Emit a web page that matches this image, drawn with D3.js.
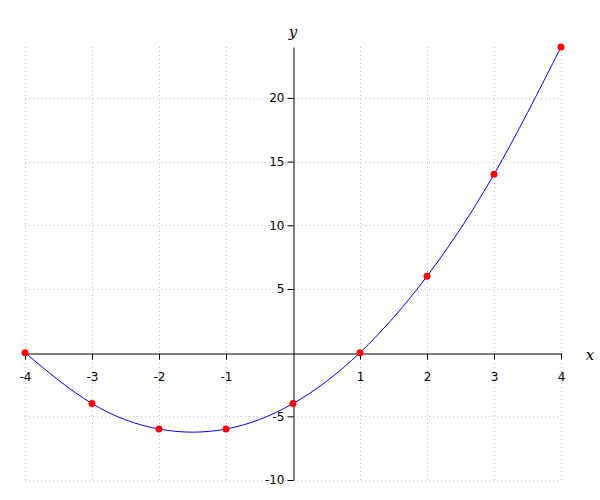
<!DOCTYPE html>
<html><head><meta charset="utf-8">
<script src="https://cdn.jsdelivr.net/npm/d3@7"></script>
<style>body{margin:0;background:#fff}</style>
</head><body>
<svg id="c" width="600" height="500"></svg>
<script>
const xs = [-4, -3, -2, -1, 0, 1, 2, 3, 4];
const ys = [0, -4, -6, -6, -4, 0, 6, 14, 24];
const xTicks = [-4, -3, -2, -1, 1, 2, 3, 4];
const yTicks = [-10, -5, 5, 10, 15, 20];

const svg = d3.select("#c");
const x = d3.scaleLinear().domain([-4, 4]).range([25, 561]);
const y = d3.scaleLinear().domain([-10, 24]).range([480, 47]);

const grid = svg.append("g").attr("stroke", "#bbb").attr("stroke-width", 1).attr("stroke-dasharray", "1,3");
xTicks.forEach(t => grid.append("line").attr("x1", Math.round(x(t))+0.5).attr("x2", Math.round(x(t))+0.5).attr("y1", y(24)).attr("y2", y(-10)));
yTicks.forEach(t => grid.append("line").attr("y1", Math.round(y(t))+0.5).attr("y2", Math.round(y(t))+0.5).attr("x1", x(-4)).attr("x2", x(4)));

const xAxis = svg.append("g").attr("transform", `translate(0,${Math.round(y(0))+0.5})`)
  .call(d3.axisBottom(x).tickValues(xTicks).tickSize(6).tickSizeOuter(0).tickFormat(d => String(d)));
const yAxis = svg.append("g").attr("transform", `translate(${Math.round(x(0))+0.5},0)`)
  .call(d3.axisLeft(y).tickValues(yTicks).tickSize(6).tickSizeOuter(0).tickFormat(d => String(d)));
[xAxis, yAxis].forEach(a => {
  a.select(".domain").attr("stroke", "#000").attr("stroke-width", 1);
  a.selectAll(".tick line").attr("stroke", "#000");
  a.selectAll("text").attr("font-family", "DejaVu Sans, sans-serif").attr("font-size", 12).attr("fill", "#000");
});
xAxis.selectAll(".tick text").attr("dy", "1.55em");
yAxis.selectAll(".tick text").attr("x", -9);

const line = d3.line().x((d, i) => x(xs[i])).y(d => y(d)).curve(d3.curveNatural);
svg.append("path").datum(ys).attr("d", line).attr("fill", "none").attr("stroke", "#0000ff").attr("stroke-width", 1);

svg.selectAll("circle.pt").data(ys).join("circle").attr("class", "pt")
  .attr("cx", (d, i) => x(xs[i])).attr("cy", d => y(d)).attr("r", 3.5).attr("fill", "#ff0000");

svg.append("text").attr("x", x(0)).attr("y", 37).attr("text-anchor", "middle")
  .attr("font-family", "DejaVu Serif, serif").attr("font-style", "italic").attr("font-size", 15).text("y");
svg.append("text").attr("x", 590).attr("y", 360).attr("text-anchor", "middle")
  .attr("font-family", "DejaVu Serif, serif").attr("font-style", "italic").attr("font-size", 15).text("x");
</script>
</body></html>
